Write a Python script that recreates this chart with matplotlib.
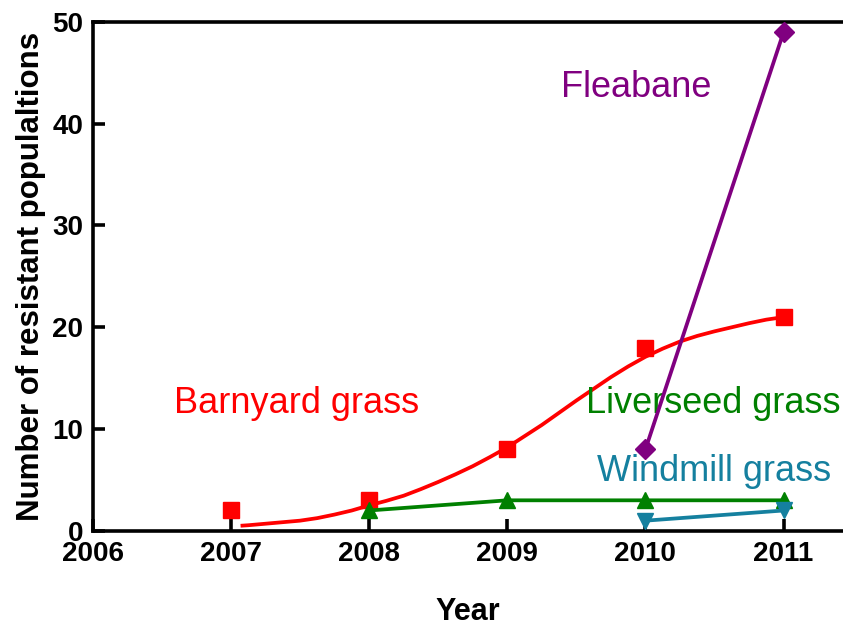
import matplotlib.pyplot as plt

plt.rcParams['font.family'] = ['Liberation Sans', 'DejaVu Sans']

years = [2007, 2008, 2009, 2010, 2011]
barnyard = [2, 3, 8, 18, 21]
# fitted curve
fit_x = [2007.07, 2007.125, 2007.25, 2007.375, 2007.5, 2007.625, 2007.75, 2007.875,
         2008.0, 2008.125, 2008.25, 2008.375, 2008.5, 2008.625, 2008.75, 2008.875,
         2009.0, 2009.125, 2009.25, 2009.375, 2009.5, 2009.625, 2009.75, 2009.875,
         2010.0, 2010.125, 2010.25, 2010.375, 2010.5, 2010.625, 2010.75, 2010.875, 2011.0]
fit_y = [0.5, 0.55, 0.7, 0.85, 1.0, 1.25, 1.6, 2.0,
         2.5, 2.95, 3.45, 4.1, 4.8, 5.55, 6.35, 7.25,
         8.2, 9.3, 10.4, 11.6, 12.8, 13.95, 15.1, 16.15,
         17.1, 17.9, 18.6, 19.15, 19.6, 20.0, 20.4, 20.75, 21.0]
liver_x = [2008, 2009, 2010, 2011]
liver_y = [2, 3, 3, 3]
wind_x = [2010, 2011]
wind_y = [1, 2]
flea_x = [2010, 2011]
flea_y = [8, 49]

RED = '#ff0000'
GREEN = '#008000'
PURPLE = '#800080'
TEAL = '#15809f'

fig = plt.figure(figsize=(8.43, 6.26), dpi=100)
ax = fig.add_axes([0.110, 0.152, 0.890, 0.813])

ax.plot(fit_x, fit_y, color=RED, lw=2.7, zorder=3, solid_capstyle='butt')
ax.plot(years, barnyard, 's', color=RED, ms=12, zorder=4, clip_on=False)
ax.plot(liver_x, liver_y, '-^', color=GREEN, lw=2.7, ms=12, zorder=5, clip_on=False)
ax.plot(wind_x, wind_y, '-v', color=TEAL, lw=2.7, ms=12, zorder=6, clip_on=False)
ax.plot(flea_x, flea_y, '-D', color=PURPLE, lw=2.7, ms=10, zorder=7, clip_on=False)

tf = 26
ax.text(2009.93, 42.6, 'Fleabane', color=PURPLE, fontsize=tf, ha='center', va='baseline')
ax.text(2007.475, 11.6, 'Barnyard grass', color=RED, fontsize=tf, ha='center', va='baseline')
ax.text(2010.49, 11.6, 'Liverseed grass', color=GREEN, fontsize=tf, ha='center', va='baseline')
ax.text(2010.50, 4.9, 'Windmill grass', color=TEAL, fontsize=tf, ha='center', va='baseline')

ax.set_xlim(2006, 2011.43)
ax.set_ylim(0, 50)
ax.set_xticks([2006, 2007, 2008, 2009, 2010, 2011])
ax.set_yticks([0, 10, 20, 30, 40, 50])

for s in ['left', 'bottom', 'top']:
    ax.spines[s].set_linewidth(2.6)
ax.spines['right'].set_visible(False)

ax.tick_params(axis='both', direction='in', width=2.6, length=8.5, labelsize=20, pad=7)
for lab in ax.get_xticklabels() + ax.get_yticklabels():
    lab.set_fontweight('bold')

ax.set_xlabel('Year', fontsize=22, fontweight='bold', labelpad=22)
ax.set_ylabel('Number of resistant populaltions', fontsize=22.5, fontweight='bold', labelpad=4)

fig.savefig('out.png', dpi=100)
